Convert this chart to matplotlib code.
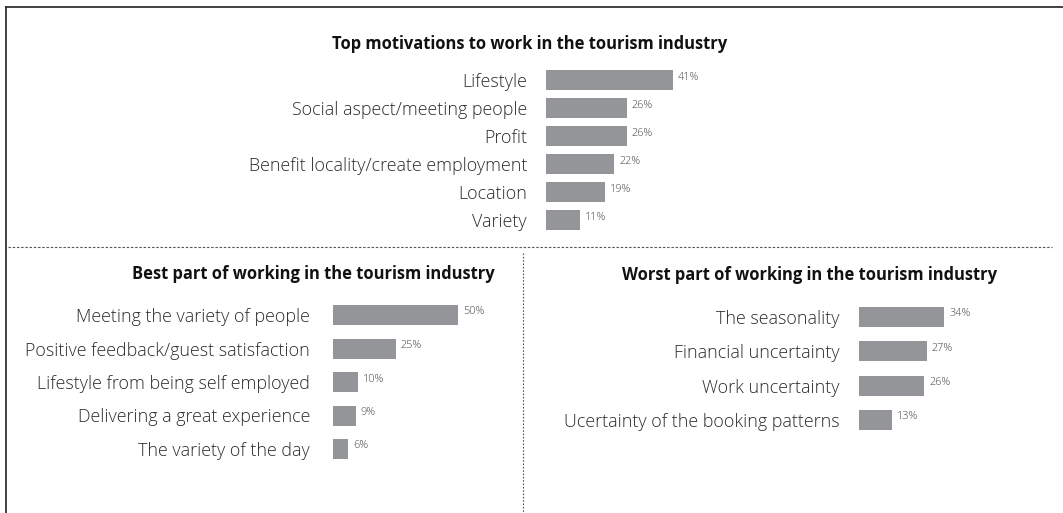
import matplotlib
matplotlib.use("Agg")
import matplotlib.pyplot as plt
from matplotlib.lines import Line2D

# Survey results (percent of respondents)
motivation_labels = ["Lifestyle", "Social aspect/meeting people", "Profit",
                     "Benefit locality/create employment", "Location", "Variety"]
motivation_values = [41, 26, 26, 22, 19, 11]

best_labels = ["Meeting the variety of people", "Positive feedback/guest satisfaction",
               "Lifestyle from being self employed", "Delivering a great experience",
               "The variety of the day"]
best_values = [50, 25, 10, 9, 6]

worst_labels = ["The seasonality", "Financial uncertainty", "Work uncertainty",
                "Ucertainty of the booking patterns"]
worst_values = [34, 27, 26, 13]

titles = ["Top motivations to work in the tourism industry",
          "Best part of working in the tourism industry",
          "Worst part of working in the tourism industry"]

W, H = 1063, 513
DPI = 100
BAR = "#939598"
LABEL = "#2b2b2b"
VALUE = "#444444"
FONT = "Open Sans"

plt.rcParams["font.family"] = [FONT, "DejaVu Sans"]

fig = plt.figure(figsize=(W / DPI, H / DPI), dpi=DPI)
fig.patch.set_facecolor("white")


def px_axes(x0, y_top, w, h):
    return fig.add_axes([x0 / W, 1 - (y_top + h) / H, w / W, h / H])


def panel(labels, values, x0, first_center, spacing, px_per_pct, bar_px, pad_px,
          label_size, value_size):
    n = len(labels)
    xmax = 60
    ax = px_axes(x0, first_center - spacing / 2, xmax * px_per_pct, n * spacing)
    ypos = list(range(n))
    ax.barh(ypos, values, height=bar_px / spacing, color=BAR, left=0)
    ax.set_xlim(0, xmax)
    ax.set_ylim(n - 0.5, -0.5)
    ax.set_yticks(ypos)
    ax.set_yticklabels(labels, fontsize=label_size, color=LABEL, fontweight="light")
    ax.tick_params(axis="y", length=0, pad=pad_px * 72 / DPI)
    ax.set_xticks([])
    for s in ax.spines.values():
        s.set_visible(False)
    ax.patch.set_alpha(0)
    for y, v in zip(ypos, values):
        ax.annotate(f"{v}%", (v, y), xytext=(5 * 72 / DPI, 3 * 72 / DPI),
                    textcoords="offset points", ha="left", va="center",
                    fontsize=value_size, color=VALUE, fontweight="light")
    return ax


panel(motivation_labels, motivation_values, 546, 80, 28, 3.1, 20, 19, 12.9, 7.8)
panel(best_labels, best_values, 333, 315, 33.5, 2.5, 20, 23, 12.9, 7.8)
panel(worst_labels, worst_values, 859, 317, 34.3, 2.5, 20, 19, 12.9, 7.8)

# Panel headings
for text, (cx, cy) in zip(titles, [(530, 44), (313.5, 274), (810, 275)]):
    fig.text(cx / W, 1 - cy / H, text, ha="center", va="center",
             fontsize=11.9, fontweight="bold", color="#111111")

# Frame on top and left edges
fig.add_artist(Line2D([5.5 / W, 1.0], [1 - 6.5 / H, 1 - 6.5 / H],
                      color="#333333", lw=1.3, transform=fig.transFigure))
fig.add_artist(Line2D([5.5 / W, 5.5 / W], [1 - 6.5 / H, 0.0],
                      color="#333333", lw=1.3, transform=fig.transFigure))

# Dotted separators between the panels
fig.add_artist(Line2D([8 / W, 1052 / W], [1 - 247 / H, 1 - 247 / H],
                      color="#555555", lw=0.8, dashes=(2.2, 1.6),
                      transform=fig.transFigure))
fig.add_artist(Line2D([523 / W, 523 / W], [1 - 253 / H, 0.0],
                      color="#555555", lw=0.8, dashes=(1.5, 1.5),
                      transform=fig.transFigure))

fig.savefig("out.png", dpi=DPI, facecolor="white")
